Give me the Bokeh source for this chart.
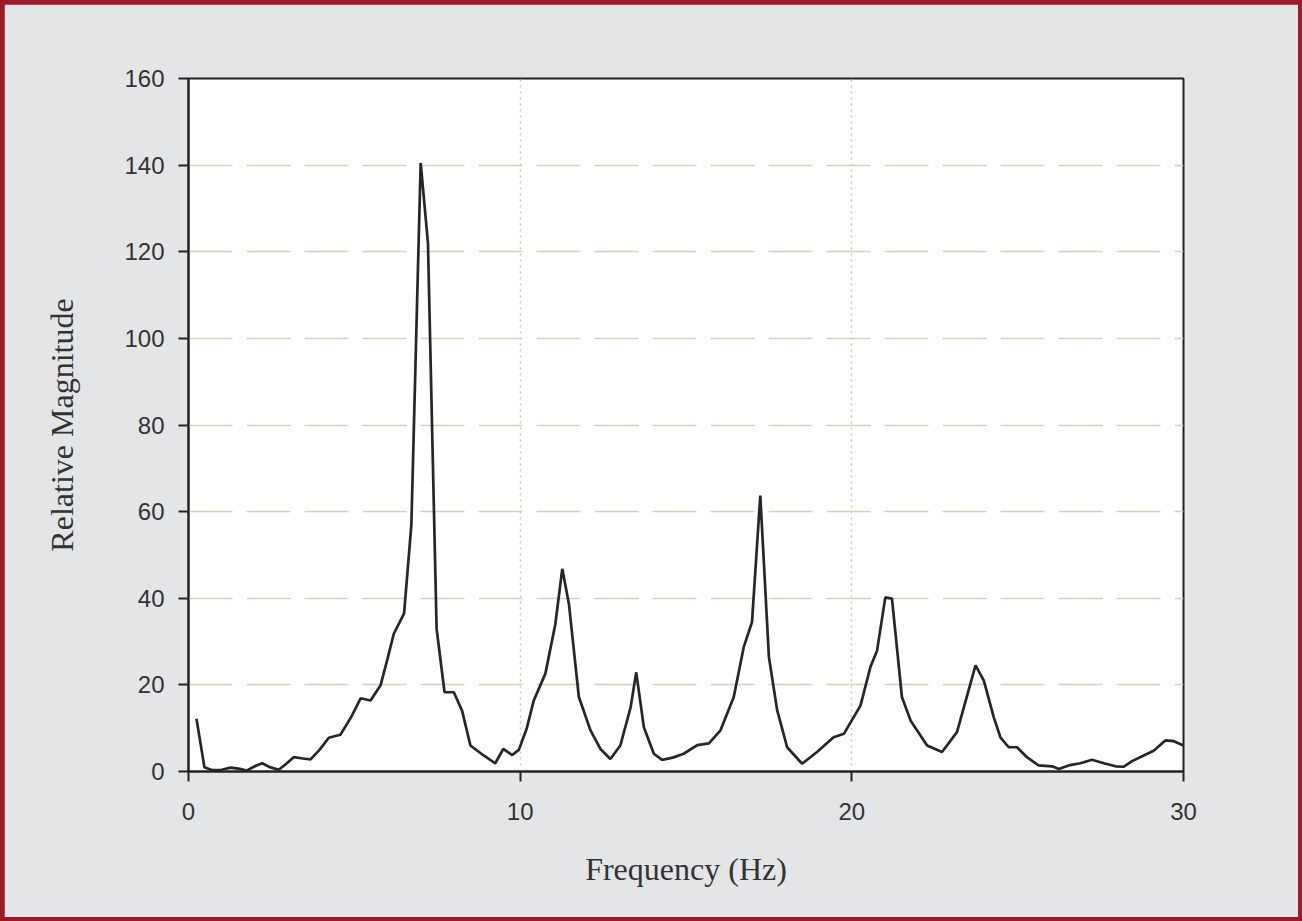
from bokeh.plotting import figure
from bokeh.embed import file_html
from bokeh.resources import INLINE
from bokeh.models import FixedTicker, Range1d

freq = [0.24, 0.48, 0.72, 1.0, 1.27, 1.55, 1.75, 2.0, 2.22, 2.45, 2.72, 2.95, 3.17, 3.45, 3.68,
        3.95, 4.23, 4.58, 4.9, 5.19, 5.49, 5.79, 6.0, 6.19, 6.5, 6.72, 7.0, 7.22, 7.48, 7.72,
        8.0, 8.25, 8.5, 8.9, 9.25, 9.49, 9.76, 9.96, 10.2, 10.41, 10.76, 11.06, 11.27, 11.47,
        11.77, 12.12, 12.42, 12.72, 13.02, 13.33, 13.5, 13.73, 14.03, 14.28, 14.6, 14.93, 15.34,
        15.69, 16.04, 16.44, 16.74, 16.99, 17.24, 17.5, 17.75, 18.05, 18.5, 18.95, 19.45, 19.76,
        20.26, 20.56, 20.76, 21.01, 21.21, 21.51, 21.77, 22.27, 22.72, 23.17, 23.73, 23.98,
        24.28, 24.48, 24.73, 24.98, 25.28, 25.63, 26.04, 26.24, 26.54, 26.89, 27.24, 27.6,
        27.95, 28.2, 28.45, 28.8, 29.1, 29.46, 29.71, 30.0]
magnitude = [12.2, 1.0, 0.3, 0.4, 0.9, 0.6, 0.2, 1.2, 1.9, 1.0, 0.4, 1.8, 3.3, 3.0, 2.8,
             5.0, 7.8, 8.5, 12.5, 16.9, 16.4, 19.9, 26.0, 31.8, 36.5, 57.0, 140.5, 122.0, 33.0, 18.3,
             18.3, 14.0, 6.0, 3.7, 1.9, 5.2, 3.8, 5.0, 10.0, 16.4, 22.6, 34.0, 46.8, 38.7,
             17.2, 9.5, 5.2, 2.9, 6.0, 14.8, 22.9, 10.2, 4.1, 2.7, 3.2, 4.1, 6.1,
             6.5, 9.5, 17.2, 28.7, 34.5, 63.7, 26.4, 14.1, 5.6, 1.8, 4.5, 7.9, 8.7,
             15.2, 24.1, 27.9, 40.2, 39.9, 17.2, 11.8, 6.0, 4.5, 9.1, 24.5, 21.0,
             12.5, 7.9, 5.6, 5.6, 3.3, 1.4, 1.2, 0.6, 1.4, 1.9, 2.7, 1.9,
             1.2, 1.1, 2.4, 3.7, 4.8, 7.2, 7.0, 6.0]

x_ticks = [0, 10, 20, 30]
y_ticks = [0, 20, 40, 60, 80, 100, 120, 140, 160]

p = figure(width=1294, height=913, output_backend="svg", toolbar_location=None,
           x_range=Range1d(0, 30), y_range=Range1d(0, 160),
           min_border_left=184, min_border_right=115, min_border_top=74, min_border_bottom=146)

p.border_fill_color = "#e3e5e7"
p.background_fill_color = "white"
p.outline_line_color = "#222222"
p.outline_line_width = 2

p.line(freq, magnitude, line_color="#262626", line_width=2.7)

for ax, ticks in ((p.xaxis[0], x_ticks), (p.yaxis[0], y_ticks)):
    ax.ticker = FixedTicker(ticks=ticks)
    ax.axis_line_color = "#222222"
    ax.axis_line_width = 2
    ax.major_tick_line_color = "#222222"
    ax.major_tick_line_width = 2
    ax.major_tick_out = 10
    ax.major_tick_in = 0
    ax.minor_tick_line_color = None
    ax.major_label_text_font = "Liberation Sans"
    ax.major_label_text_font_size = "24px"
    ax.major_label_text_color = "#333333"
    ax.axis_label_text_font = "Liberation Serif"
    ax.axis_label_text_font_size = "32px"
    ax.axis_label_text_font_style = "normal"
    ax.axis_label_text_color = "#333333"

p.xaxis.axis_label = "Frequency (Hz)"
p.yaxis.axis_label = "Relative Magnitude"
p.xaxis.major_label_standoff = 21
p.yaxis.major_label_standoff = 14
p.xaxis.axis_label_standoff = 28
p.yaxis.axis_label_standoff = 41

p.ygrid.ticker = FixedTicker(ticks=y_ticks[1:-1])
p.ygrid.grid_line_color = "#d4d2bb"
p.ygrid.grid_line_width = 1.5
p.ygrid.grid_line_dash = "44 14"
p.xgrid.ticker = FixedTicker(ticks=[10, 20])
p.xgrid.grid_line_color = "#c9c7b0"
p.xgrid.grid_line_width = 1.5
p.xgrid.grid_line_dash = "2 4"

template = """
{% block postamble %}
<style>
html, body { margin: 0 !important; padding: 0 !important; background: #9c1a2a; }
body { padding: 4px !important; box-sizing: border-box; }
</style>
{% endblock %}
"""

open("out.html", "w").write(file_html(p, INLINE, template=template))
